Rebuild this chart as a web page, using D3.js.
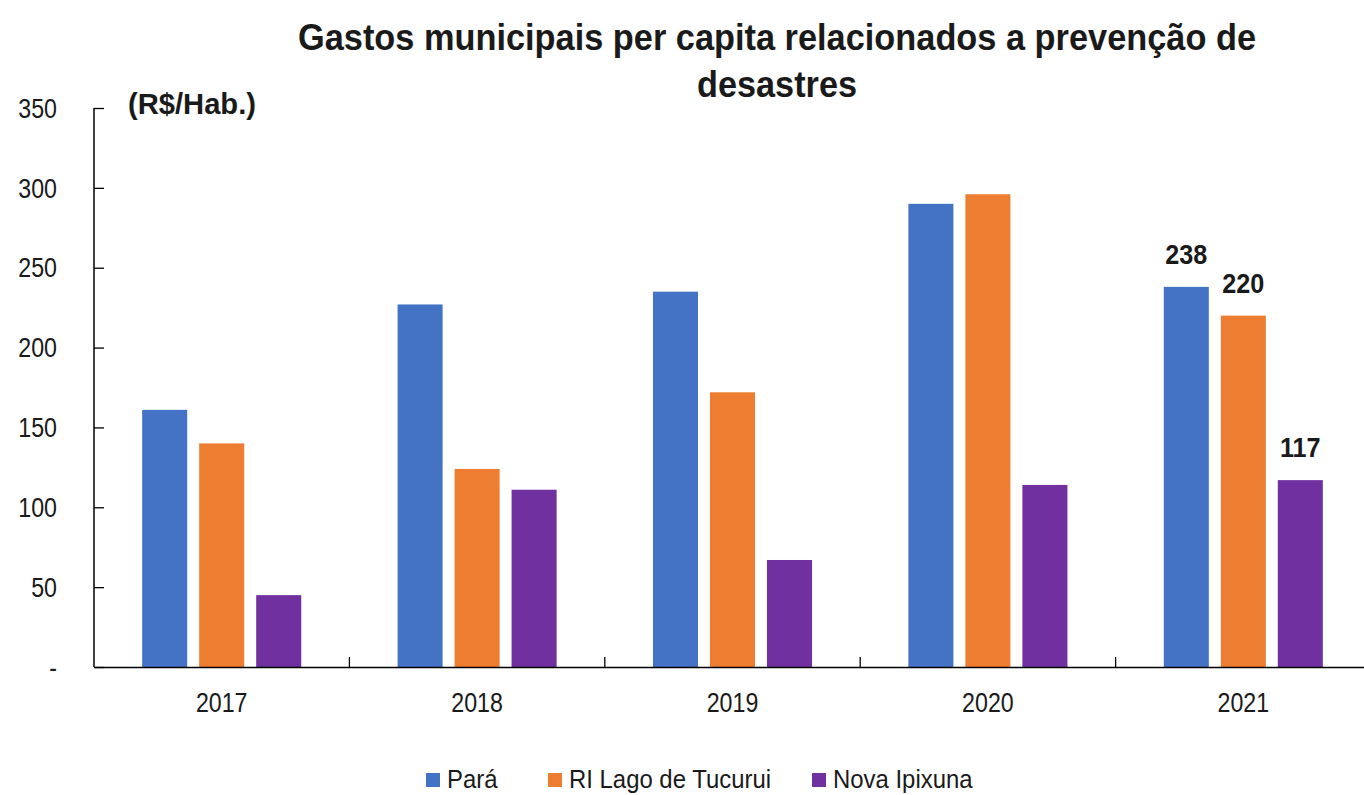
<!DOCTYPE html>
<html><head><meta charset="utf-8">
<script src="https://cdn.jsdelivr.net/npm/d3@7"></script>
<style>
body{margin:0;background:#fff;}
svg{display:block;}
text{font-family:"Liberation Sans Narrow","Arial Narrow","Liberation Sans",Arial,sans-serif;fill:#1a1a1a;}
</style></head>
<body><svg id="c" width="1364" height="795"></svg>
<script>
const categories = ["2017","2018","2019","2020","2021"];
const seriesNames = ["Pará","RI Lago de Tucurui","Nova Ipixuna"];
const para = [161, 227, 235, 290, 238];
const tucurui = [140, 124, 172, 296, 220];
const novaIpixuna = [45, 111, 67, 114, 117];
const yTicks = [0, 50, 100, 150, 200, 250, 300, 350];
const colors = ["#4472C4", "#ED7D31", "#7030A0"];

const series = [para, tucurui, novaIpixuna];
const svg = d3.select("#c");
const W = 1364, H = 795;
const m = {left:94, right:-7, top:108, bottom:128};
const x = d3.scaleBand().domain(categories).range([m.left, W - m.right]);
const xs = d3.scaleBand().domain(d3.range(3)).range([0, x.bandwidth()]).paddingInner(0.21).paddingOuter(0.845);
const y = d3.scaleLinear().domain([0, 350]).range([H - m.bottom, m.top]);

function narrow(sel, s) {
  sel.each(function() {
    const t = d3.select(this);
    const x0 = +t.attr("x") || 0;
    t.attr("transform", `translate(${x0},0) scale(${s},1) translate(${-x0},0)`);
  });
}

// bars
series.forEach((vals, si) => {
  svg.append("g").selectAll("rect").data(vals).join("rect")
    .attr("x", (d, i) => x(categories[i]) + xs(si))
    .attr("width", xs.bandwidth())
    .attr("y", d => y(d))
    .attr("height", d => y(0) - y(d))
    .attr("fill", colors[si]);
});

// data labels for 2021
const lab = svg.append("g");
series.forEach((vals, si) => {
  const i = categories.length - 1;
  lab.append("text")
    .attr("x", x(categories[i]) + xs(si) + xs.bandwidth()/2)
    .attr("y", y(vals[i]) - 23)
    .attr("text-anchor", "middle")
    .attr("font-size", 28).attr("font-weight", "bold")
    .attr("fill", "#111")
    .text(vals[i]);
});
narrow(lab.selectAll("text"), 0.9);

// y axis
const ya = d3.axisLeft(y).tickValues(yTicks).tickSize(-10).tickPadding(37)
  .tickFormat(d => d === 0 ? "-" : d);
const gy = svg.append("g").attr("transform", `translate(${m.left},0)`).call(ya);
gy.select(".domain").attr("stroke", "#000").attr("stroke-width", 1.5).attr("d", `M0,${y(350)}V${y(0)}`);
gy.selectAll(".tick line").attr("stroke", "#000").attr("stroke-width", 1.3);
gy.selectAll(".tick text").attr("font-size", 27).attr("fill", "#222")
  .attr("font-family", '"Liberation Sans Narrow","Arial Narrow","Liberation Sans",sans-serif').attr("dy", "0.34em");
narrow(gy.selectAll(".tick text"), 0.86);

// x axis
const xa = d3.axisBottom(x).tickSize(0).tickPadding(26);
const gx = svg.append("g").attr("transform", `translate(0,${y(0)})`).call(xa);
gx.select(".domain").attr("stroke", "#000").attr("stroke-width", 1.5);
gx.selectAll(".tick text").attr("font-size", 27).attr("fill", "#222")
  .attr("font-family", '"Liberation Sans Narrow","Arial Narrow","Liberation Sans",sans-serif');
narrow(gx.selectAll(".tick text"), 0.86);
svg.append("g").selectAll("line").data(categories.slice(1)).join("line")
  .attr("x1", d => x(d)).attr("x2", d => x(d))
  .attr("y1", y(0)).attr("y2", y(0) - 10)
  .attr("stroke", "#000").attr("stroke-width", 1.3);

// title
const title = svg.append("text").attr("text-anchor", "middle").attr("font-size", 37).attr("font-weight", "bold").attr("fill", "#111");
title.append("tspan").attr("x", 777).attr("y", 50)
  .attr("textLength", 958).attr("lengthAdjust", "spacingAndGlyphs")
  .text("Gastos municipais per capita relacionados a prevenção de");
title.append("tspan").attr("x", 777).attr("y", 97)
  .attr("textLength", 160).attr("lengthAdjust", "spacingAndGlyphs")
  .text("desastres");

// unit label
svg.append("text").attr("x", 128).attr("y", 114).attr("font-size", 29).attr("font-weight", "bold").attr("fill", "#111")
  .attr("textLength", 128).attr("lengthAdjust", "spacingAndGlyphs")
  .text("(R$/Hab.)");

// legend
const legX = [426, 548, 812];
const lg = svg.append("g");
seriesNames.forEach((n, i) => {
  lg.append("rect").attr("x", legX[i]).attr("y", 773).attr("width", 14).attr("height", 14).attr("fill", colors[i]);
  const t = lg.append("text").attr("x", legX[i] + 21).attr("y", 788).attr("font-size", 26).attr("fill", "#222").text(n);
  narrow(t, 0.92);
});
</script></body></html>
